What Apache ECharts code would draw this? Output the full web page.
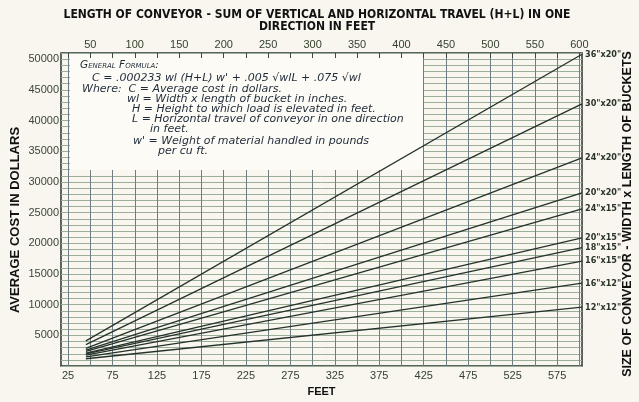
<!DOCTYPE html>
<html>
<head>
<meta charset="utf-8">
<script src="https://cdn.jsdelivr.net/npm/echarts@6/dist/echarts.min.js"></script>
<style>
html,body{margin:0;padding:0;background:#f8f6ee;}
#c{width:639px;height:402px;}
</style>
</head>
<body>
<div id="c"></div>
<script>
// ---- data ----
var sizes = ['36"x20"', '30"x20"', '24"x20"', '20"x20"', '24"x15"', '20"x15"', '18"x15"', '16"x15"', '16"x12"', '12"x12"'];
var startFeet = 45;
var endFeet = 603;
var startCost = [4100, 3500, 2900, 2600, 2400, 2100, 2000, 1800, 1500, 1200];
var endCost = [50800, 42700, 33900, 28200, 25600, 20900, 19300, 17100, 13500, 9600];
var bottomTicks = [25, 75, 125, 175, 225, 275, 325, 375, 425, 475, 525, 575];
var topTicks = [50, 100, 150, 200, 250, 300, 350, 400, 450, 500, 550, 600];
var gridFeet = [25, 50, 75, 100, 125, 150, 175, 200, 225, 250, 275, 300, 325, 350, 375, 400, 425, 450, 475, 500, 525, 550, 575, 600];
var yLabelValues = [5000, 10000, 15000, 20000, 25000, 30000, 35000, 40000, 45000, 50000];
var titleText = 'LENGTH OF CONVEYOR - SUM OF VERTICAL AND HORIZONTAL TRAVEL (H+L) IN ONE\nDIRECTION IN FEET';
var formulaLines = [
  'C = .000233 wl (H+L) w\' + .005 \u221AwlL + .075 \u221Awl',
  'Where:  C = Average cost in dollars.',
  'wl = Width x length of bucket in inches.',
  'H = Height to which load is elevated in feet.',
  'L = Horizontal travel of conveyor in one direction',
  'in feet.',
  'w\' = Weight of material handled in pounds',
  'per cu ft.'
];

var lineColor = '#25322c';
var series = sizes.map(function (s, i) {
  return {
    name: s,
    type: 'line',
    xAxisIndex: 0,
    yAxisIndex: 0,
    data: [[startFeet, startCost[i]], [endFeet, endCost[i]]],
    showSymbol: false,
    symbol: 'none',
    lineStyle: { color: lineColor, width: 1.3 },
    z: 5,
    endLabel: {
      show: true,
      formatter: '{a}',
      color: '#2a3428',
      fontSize: 9,
      fontWeight: 'bold',
      fontFamily: 'Liberation Sans Narrow, DejaVu Sans Condensed, Liberation Sans, sans-serif',
      distance: 3
    },
    animation: false
  };
});

var fFam = '"Liberation Sans", Arial, sans-serif';
var formulaFam = '"DejaVu Sans", "Liberation Sans", sans-serif';
var textCol = '#1f2a38';
var formulaPos = [[92, 73], [82, 84], [127, 94], [132, 104], [132, 114], [150, 124], [133, 136], [158, 146]];
var graphics = [
  { type: 'rect', z: 1, shape: { x: 70, y: 54, width: 353, height: 116 }, style: { fill: '#fcfbf6' } },
  { type: 'text', z: 6, left: 80, top: 60,
    style: { text: 'General Formula:', font: 'italic small-caps 10.5px ' + formulaFam, fill: textCol } }
];
formulaLines.forEach(function (t, i) {
  graphics.push({ type: 'text', z: 6, left: formulaPos[i][0], top: formulaPos[i][1],
    style: { text: t, font: 'italic 11px ' + formulaFam, fill: textCol } });
});
graphics.push({ type: 'text', z: 6, x: 15, y: 220, rotation: Math.PI / 2,
  style: { text: 'AVERAGE COST IN DOLLARS', font: 'bold 13px ' + fFam, fill: '#111', align: 'center', verticalAlign: 'middle' } });
graphics.push({ type: 'text', z: 6, x: 628, y: 214, rotation: Math.PI / 2,
  style: { text: 'SIZE OF CONVEYOR - WIDTH x LENGTH OF BUCKETS', font: 'bold 12.5px ' + fFam, fill: '#111', align: 'center', verticalAlign: 'middle' } });

var chart = echarts.init(document.getElementById('c'), null, { renderer: 'canvas' });
chart.setOption({
  backgroundColor: '#f8f6ee',
  animation: false,
  title: {
    text: titleText,
    left: 312, top: 4, textAlign: 'center',
    textStyle: { fontFamily: '"Liberation Sans Narrow", "DejaVu Sans Condensed", "Liberation Sans", sans-serif', fontWeight: 'bold', fontSize: 12, color: '#111', lineHeight: 12 }
  },
  grid: { left: 61, right: 57, top: 53, bottom: 27, show: true, borderColor: '#2a3530', borderWidth: 1.5, containLabel: false },
  xAxis: [
    {
      type: 'value', position: 'bottom', min: 17, max: endFeet,
      name: 'FEET', nameLocation: 'middle', nameGap: 18,
      nameTextStyle: { fontFamily: fFam, fontWeight: 'bold', fontSize: 11, color: '#111' },
      axisLine: { show: false },
      axisTick: { show: false, customValues: gridFeet },
      axisLabel: { customValues: bottomTicks, margin: 4, fontSize: 11, color: '#33402f', fontFamily: '"Liberation Sans Narrow", "Liberation Sans", sans-serif' },
      splitLine: { show: true, lineStyle: { color: '#6c7d84', width: 1 } }
    },
    {
      type: 'value', position: 'top', min: 17, max: endFeet, z: 3,
      axisLine: { show: false },
      axisTick: { show: true, inside: true, length: 5, customValues: gridFeet, lineStyle: { color: '#3c4a40', width: 1 } },
      axisLabel: { customValues: topTicks, margin: 3, fontSize: 11, color: '#33402f', fontFamily: '"Liberation Sans Narrow", "Liberation Sans", sans-serif' },
      splitLine: { show: false }
    }
  ],
  yAxis: {
    type: 'value', min: 0, max: 51000, interval: 1000,
    axisLine: { show: false },
    axisTick: { show: false },
    axisLabel: {
      margin: 2, fontSize: 11, color: '#3a4636', fontFamily: fFam,
      formatter: function (v) { return yLabelValues.indexOf(v) >= 0 ? String(v) : ''; }
    },
    splitLine: { show: true, lineStyle: { color: '#9aae98', width: 1 } }
  },
  series: series,
  graphic: graphics
});
</script>
</body>
</html>
